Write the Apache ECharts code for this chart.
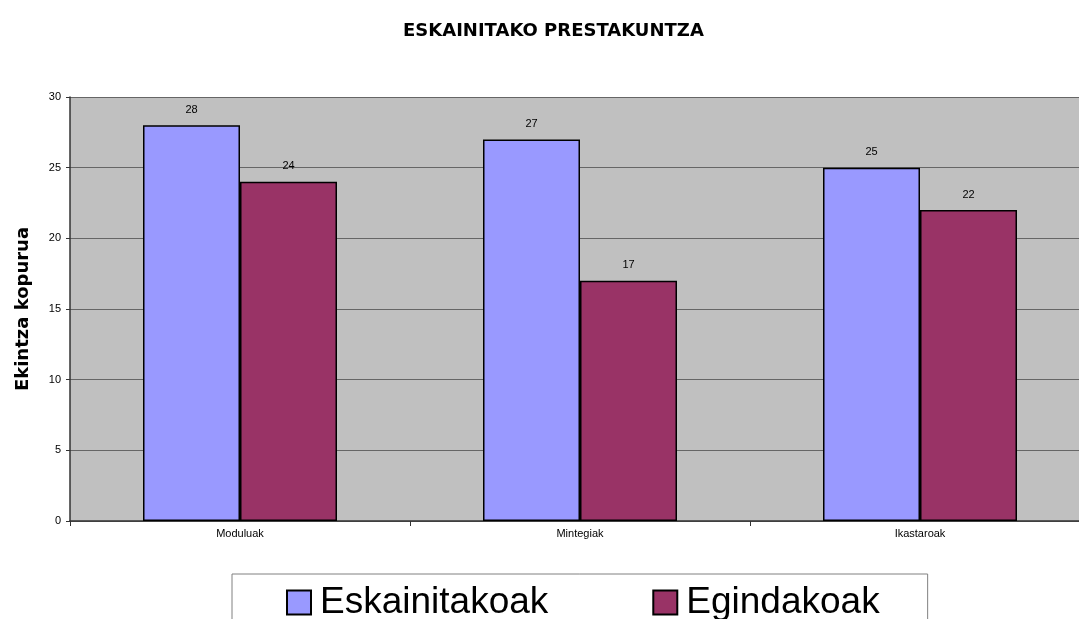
<!DOCTYPE html>
<html>
<head>
<meta charset="utf-8">
<script src="https://cdn.jsdelivr.net/npm/echarts@6/dist/echarts.min.js"></script>
<style>
  html, body { margin: 0; padding: 0; background: #fff; overflow: hidden; }
  #chart { width: 1090px; height: 619px; }
</style>
</head>
<body>
<div id="chart"></div>
<script>
// datuak
const categories = ['Moduluak', 'Mintegiak', 'Ikastaroak'];
const eskainitakoak = [28, 27, 25];
const egindakoak = [24, 17, 22];
const yTicks = [0, 5, 10, 15, 20, 25, 30];

const chart = echarts.init(document.getElementById('chart'));

const barLabel = {
    show: true,
    position: 'top',
    distance: 10,
    color: '#000',
    fontFamily: 'Liberation Sans',
    fontSize: 11
};

chart.setOption({
    animation: false,
    title: {
        text: 'ESKAINITAKO PRESTAKUNTZA',
        left: 403,
        top: 22,
        padding: 0,
        textStyle: {
            fontFamily: 'DejaVu Sans',
            fontWeight: 'bold',
            fontSize: 18,
            color: '#000'
        }
    },
    legend: {
        left: 232,
        top: 574,
        padding: [10, 48, 12, 54],
        icon: 'rect',
        itemWidth: 24,
        itemHeight: 24,
        itemGap: 104,
        borderColor: '#808080',
        borderWidth: 1,
        backgroundColor: '#fff',
        textStyle: {
            fontFamily: 'Liberation Sans',
            fontSize: 37,
            color: '#000',
            padding: [0, 0, 0, 4]
        },
        data: ['Eskainitakoak', 'Egindakoak']
    },
    grid: {
        left: 70,
        top: 97,
        bottom: 98,
        right: 0,
        show: true,
        backgroundColor: '#C0C0C0',
        borderWidth: 0
    },
    xAxis: {
        type: 'category',
        data: categories,
        axisLine: { lineStyle: { color: '#333', width: 1.5 } },
        axisTick: { show: true, length: 5, lineStyle: { color: '#333' } },
        axisLabel: {
            margin: 7,
            color: '#000',
            fontFamily: 'Liberation Sans',
            fontSize: 11
        }
    },
    yAxis: {
        type: 'value',
        min: yTicks[0],
        max: yTicks[yTicks.length - 1],
        interval: 5,
        name: 'Ekintza kopurua',
        nameLocation: 'middle',
        nameGap: 38,
        nameTextStyle: {
            fontFamily: 'DejaVu Sans',
            fontWeight: 'bold',
            fontSize: 18,
            color: '#000'
        },
        axisLine: { show: true, lineStyle: { color: '#333', width: 1.5 } },
        axisTick: { show: true, length: 4, lineStyle: { color: '#333' } },
        axisLabel: {
            margin: 9,
            color: '#000',
            fontFamily: 'Liberation Sans',
            fontSize: 11
        },
        splitLine: { show: true, lineStyle: { color: '#666', width: 1 } }
    },
    series: [
        {
            name: 'Eskainitakoak',
            type: 'bar',
            data: eskainitakoak,
            barWidth: 97,
            barGap: '0%',
            itemStyle: { color: '#9999FF', borderColor: '#000', borderWidth: 1.5 },
            label: barLabel
        },
        {
            name: 'Egindakoak',
            type: 'bar',
            data: egindakoak,
            barWidth: 97,
            itemStyle: { color: '#993366', borderColor: '#000', borderWidth: 1.5 },
            label: barLabel
        }
    ]
});
</script>
</body>
</html>
